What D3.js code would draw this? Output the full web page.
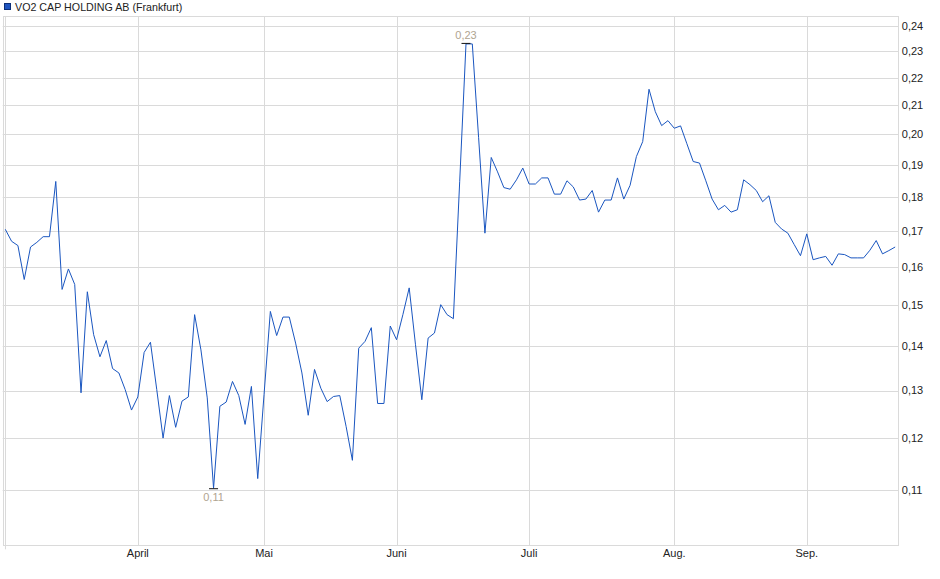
<!DOCTYPE html>
<html>
<head>
<meta charset="utf-8">
<script src="https://cdn.jsdelivr.net/npm/d3@7"></script>
<style>
  body { margin: 0; background: #fff; }
  svg { display: block; font-family: "Liberation Sans", Arial, sans-serif; }
</style>
</head>
<body>
<svg id="chart" width="940" height="579"></svg>
<script>
// Closing prices (EUR), one per trading day
const prices = [
  0.1705, 0.1671, 0.1659, 0.1567, 0.1655, 0.1668, 0.1684, 0.1684, 0.1848, 0.1541,
  0.1595, 0.1554, 0.1295, 0.1535, 0.1428, 0.1376, 0.1414, 0.1349, 0.1339, 0.1302,
  0.1258, 0.1286, 0.1386, 0.1410, 0.1302, 0.1200, 0.1289, 0.1222, 0.1277, 0.1286,
  0.1477, 0.1392, 0.1284, 0.1103, 0.1266, 0.1275, 0.1320, 0.1289, 0.1228, 0.1309,
  0.1121, 0.1291, 0.1485, 0.1426, 0.1471, 0.1471, 0.1408, 0.1339, 0.1247, 0.1347,
  0.1305, 0.1276, 0.1287, 0.1289, 0.1224, 0.1156, 0.1396, 0.1412, 0.1445, 0.1272,
  0.1272, 0.1449, 0.1416, 0.1477, 0.1545, 0.1404, 0.1280, 0.1420, 0.1432, 0.1502,
  0.1477, 0.1467, 0.1847, 0.2329, 0.2329, 0.1989, 0.1694, 0.1924, 0.1878, 0.1829,
  0.1824, 0.1853, 0.1890, 0.1840, 0.1840, 0.1859, 0.1859, 0.1809, 0.1809, 0.1850,
  0.1831, 0.1791, 0.1794, 0.1820, 0.1755, 0.1791, 0.1791, 0.1859, 0.1794, 0.1836,
  0.1927, 0.1976, 0.2158, 0.2078, 0.2030, 0.2047, 0.2021, 0.2029, 0.1969, 0.1911,
  0.1906, 0.1850, 0.1794, 0.1762, 0.1775, 0.1755, 0.1762, 0.1853, 0.1838, 0.1820,
  0.1786, 0.1804, 0.1725, 0.1706, 0.1694, 0.1662, 0.1631, 0.1692, 0.1620, 0.1625,
  0.1629, 0.1605, 0.1636, 0.1634, 0.1625, 0.1625, 0.1625, 0.1646, 0.1673, 0.1636,
  0.1645, 0.1655
];

// Month labels and the trading-day index where each month starts
const monthLabels = ["April", "Mai", "Juni", "Juli", "Aug.", "Sep."];
const monthStarts = [21, 41, 62, 83, 106, 127];

const yTicks = [0.11, 0.12, 0.13, 0.14, 0.15, 0.16, 0.17, 0.18, 0.19, 0.20, 0.21, 0.22, 0.23, 0.24];

const title = "VO2 CAP HOLDING AB (Frankfurt)";

const svg = d3.select("#chart");
const plot = { left: 2.7, right: 898.3, top: 16, bottom: 545.3 };
const gridColor = "#dadada";
const fmt = v => d3.format(".2f")(v).replace(".", ",");

const x = d3.scaleLinear().domain([-0.41, prices.length - 0.5]).range([plot.left, plot.right]);
const y = d3.scaleLog().domain([0.1002, 0.2441]).range([plot.bottom, plot.top]);

// Horizontal grid
svg.append("g")
  .selectAll("line")
  .data(yTicks)
  .join("line")
  .attr("x1", plot.left)
  .attr("x2", plot.right)
  .attr("y1", d => Math.round(y(d)) + 0.5)
  .attr("y2", d => Math.round(y(d)) + 0.5)
  .attr("stroke", gridColor);

// Vertical grid at month starts (plus the first day)
svg.append("g")
  .selectAll("line")
  .data([0].concat(monthStarts))
  .join("line")
  .attr("x1", d => Math.round(x(d)) + 0.5)
  .attr("x2", d => Math.round(x(d)) + 0.5)
  .attr("y1", plot.top)
  .attr("y2", (d, i) => i === 0 ? plot.bottom + 4 : plot.bottom)
  .attr("stroke", gridColor);

// Frame
svg.append("rect")
  .attr("x", Math.round(plot.left) + 0.5)
  .attr("y", plot.top + 0.5)
  .attr("width", Math.round(plot.right) - Math.round(plot.left))
  .attr("height", Math.round(plot.bottom) - plot.top)
  .attr("fill", "none")
  .attr("stroke", gridColor);

// Right axis labels
svg.append("g")
  .selectAll("text")
  .data(yTicks)
  .join("text")
  .attr("x", plot.right + 3.5)
  .attr("y", d => y(d))
  .attr("dy", "0.35em")
  .attr("font-size", "11px")
  .attr("fill", "#222")
  .text(fmt);

// Month labels
svg.append("g")
  .selectAll("text")
  .data(monthStarts)
  .join("text")
  .attr("x", d => x(d))
  .attr("y", 556.5)
  .attr("text-anchor", "middle")
  .attr("font-size", "11px")
  .attr("fill", "#222")
  .text((d, i) => monthLabels[i]);

// Price line
const line = d3.line()
  .x((d, i) => x(i))
  .y(d => y(d));

svg.append("path")
  .datum(prices)
  .attr("fill", "none")
  .attr("stroke", "#1a56c0")
  .attr("stroke-width", 1)
  .attr("stroke-linejoin", "round")
  .attr("d", line);

// High / low markers
const maxI = d3.maxIndex(prices);
const minI = d3.minIndex(prices);

[[maxI, -1], [minI, 1]].forEach(([i, dir]) => {
  const px = x(i), py = y(prices[i]);
  svg.append("line")
    .attr("x1", px - 4.5)
    .attr("x2", px + 4.5)
    .attr("y1", py + 0.5 * dir)
    .attr("y2", py + 0.5 * dir)
    .attr("stroke", "#111")
    .attr("stroke-width", 1);
  svg.append("text")
    .attr("x", px)
    .attr("y", dir < 0 ? py - 5 : py + 13)
    .attr("text-anchor", "middle")
    .attr("font-size", "11px")
    .attr("fill", "#b0a490")
    .text(fmt(prices[i]));
});

// Title with legend swatch
svg.append("rect")
  .attr("x", 4.5)
  .attr("y", 3.5)
  .attr("width", 6)
  .attr("height", 6)
  .attr("fill", "#1f55c0")
  .attr("stroke", "#0d2f78");

svg.append("text")
  .attr("x", 15)
  .attr("y", 10.5)
  .attr("font-size", "10.7px")
  .attr("fill", "#222")
  .text(title);
</script>
</body>
</html>
